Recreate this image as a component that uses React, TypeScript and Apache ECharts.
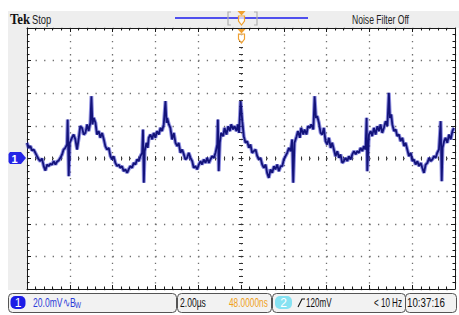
import React, { useEffect, useRef } from 'react';
import * as echarts from 'echarts';

// Time axis (µs, trigger at 0) and vertical axis (mV, 20 mV/div)
const timeMin = -10;
const timeMax = 10;
const timeDiv = 2;
const voltMin = -80;
const voltMax = 80;
const voltDiv = 20;

const timeUs = [-10.00,-9.92,-9.84,-9.77,-9.69,-9.61,-9.53,-9.45,-9.38,-9.30,-9.22,-9.14,-9.06,-8.99,-8.91,-8.83,-8.75,-8.67,-8.60,-8.52,-8.44,-8.36,-8.29,-8.21,-8.13,-8.10,-8.05,-8.00,-7.90,-7.82,-7.74,-7.66,-7.58,-7.51,-7.43,-7.35,-7.27,-7.19,-7.12,-7.04,-6.99,-6.94,-6.88,-6.80,-6.73,-6.65,-6.57,-6.49,-6.41,-6.34,-6.26,-6.18,-6.10,-6.02,-5.95,-5.87,-5.79,-5.71,-5.64,-5.56,-5.48,-5.40,-5.32,-5.25,-5.17,-5.09,-5.01,-4.93,-4.86,-4.78,-4.70,-4.62,-4.58,-4.54,-4.50,-4.42,-4.36,-4.31,-4.23,-4.15,-4.08,-4.00,-3.92,-3.84,-3.76,-3.69,-3.61,-3.53,-3.48,-3.45,-3.37,-3.30,-3.22,-3.14,-3.06,-2.98,-2.91,-2.83,-2.75,-2.67,-2.60,-2.52,-2.44,-2.36,-2.28,-2.21,-2.13,-2.05,-1.97,-1.89,-1.82,-1.74,-1.66,-1.58,-1.50,-1.43,-1.35,-1.27,-1.19,-1.11,-1.08,-1.04,-0.99,-0.93,-0.83,-0.77,-0.68,-0.60,-0.52,-0.46,-0.37,-0.30,-0.21,-0.15,-0.09,-0.02,0.06,0.13,0.21,0.29,0.37,0.44,0.52,0.60,0.68,0.76,0.83,0.91,0.99,1.07,1.15,1.22,1.30,1.38,1.46,1.54,1.61,1.69,1.77,1.85,1.93,2.00,2.08,2.16,2.24,2.32,2.39,2.44,2.50,2.60,2.66,2.75,2.81,2.91,2.97,3.06,3.13,3.22,3.28,3.38,3.44,3.50,3.56,3.64,3.72,3.80,3.87,3.95,4.03,4.11,4.19,4.26,4.34,4.42,4.50,4.58,4.65,4.73,4.81,4.89,4.97,5.04,5.12,5.20,5.28,5.36,5.43,5.51,5.59,5.67,5.74,5.82,5.87,5.90,5.98,6.06,6.13,6.21,6.29,6.37,6.45,6.52,6.60,6.68,6.76,6.84,6.91,6.96,7.02,7.07,7.15,7.23,7.30,7.38,7.46,7.54,7.62,7.69,7.77,7.85,7.93,8.01,8.08,8.16,8.24,8.32,8.40,8.47,8.55,8.63,8.71,8.79,8.86,8.94,9.02,9.10,9.17,9.25,9.33,9.38,9.42,9.49,9.56,9.64,9.72,9.80,9.88,9.95];

const voltMv = [9.6,6.5,7.6,4.9,5.5,3.5,1.4,-0.6,-1.6,0.0,-4.7,-7.4,-3.7,-4.7,-3.3,-3.7,-1.6,-3.7,-2.0,-1.2,0.4,2.5,5.5,6.5,8.6,23.9,-10.8,9.6,12.7,14.7,11.7,5.5,12.7,19.8,18.8,14.7,15.7,20.9,16.8,21.9,38.2,20.9,24.9,21.9,14.7,16.8,12.7,15.7,11.7,7.6,5.5,6.5,1.4,-0.6,1.4,-2.7,-4.7,-3.7,-5.7,-4.7,-7.8,-6.7,-8.8,-6.7,-4.7,-5.7,-2.7,-3.7,-0.6,-1.6,1.4,3.5,17.8,-14.9,4.5,9.6,6.5,12.7,14.7,11.7,15.7,12.7,16.8,14.7,18.8,16.8,20.9,35.2,21.9,24.9,20.9,18.8,11.7,15.7,9.6,7.6,9.6,3.5,5.5,2.5,-0.6,0.4,3.5,0.4,-1.6,-5.7,-4.7,-6.7,-3.7,-1.6,-3.7,-0.6,-2.7,0.4,-2.7,-0.6,1.4,0.4,3.5,8.6,23.9,-7.8,9.6,15.7,13.7,18.8,14.7,19.8,16.8,20.9,17.8,19.8,16.8,20.9,15.7,35.2,22.9,13.7,9.6,10.6,6.5,8.6,3.5,4.5,5.5,1.4,-0.6,0.4,-3.7,-5.7,-3.7,-8.8,-11.9,-6.7,-8.8,-4.7,-6.7,-3.7,-7.8,-4.7,-4.7,-0.6,1.4,3.5,6.5,4.5,11.7,-14.9,9.6,13.7,16.8,12.7,18.8,14.7,17.8,14.7,19.8,18.8,20.9,17.8,38.2,24.9,26.0,21.9,15.7,14.7,18.8,10.6,8.6,12.7,6.5,9.6,5.5,1.4,4.5,0.4,2.5,-2.7,-1.6,0.4,-1.6,1.4,-0.6,2.5,4.5,2.5,4.5,3.5,6.5,4.5,7.6,5.5,24.9,-7.8,14.7,16.8,13.7,18.8,14.7,19.8,16.8,20.9,15.7,18.8,22.9,19.8,40.3,24.9,27.0,20.9,16.8,17.8,13.7,14.7,10.6,12.7,7.6,9.6,5.5,1.4,3.5,-1.6,-0.6,-3.7,-1.6,-4.7,-2.7,-5.7,-8.8,-3.7,-2.7,0.4,-1.6,-0.6,1.4,0.4,3.5,5.5,22.9,-13.9,6.5,10.6,12.7,9.6,14.7,11.7,16.8,18.8];

const topTexts = { brand: 'Tek', state: 'Stop', filter: 'Noise Filter Off' };
const statusTexts = {
  ch1Num: '1',
  ch1Scale: '20.0mV',
  ch1Coupling: '∿B',
  ch1Bw: 'W',
  timebase: '2.00µs',
  position: '48.0000ns',
  trigSrc: '2',
  trigLevel: '120mV',
  trigFreq: '< 10 Hz',
  clock: '10:37:16',
};

const NARROW = '"Liberation Sans", Arial, sans-serif';

export default function App() {
  const ref = useRef<HTMLDivElement>(null);

  useEffect(() => {
    if (!ref.current) return;
    const chart = echarts.init(ref.current, null, { renderer: 'svg' });
    const n = Math.min(timeUs.length, voltMv.length);
    const data: number[][] = [];
    for (let i = 0; i < n; i++) data.push([timeUs[i], voltMv[i]]);

    const black = '#1a1a1a';
    const dot = '#6e6e6e';

    const baseX = {
      type: 'value',
      min: timeMin,
      max: timeMax,
      interval: timeDiv,
      axisLabel: { show: false },
      splitLine: { show: false },
    };
    const baseY = {
      type: 'value',
      min: voltMin,
      max: voltMax,
      interval: voltDiv,
      axisLabel: { show: false },
      splitLine: { show: false },
    };
    const frameLine = { show: true, onZero: false, lineStyle: { color: black, width: 1 } };
    const frameTick = { show: true, inside: true, length: 4, lineStyle: { color: black, width: 1 } };
    const frameMinor = { show: true, splitNumber: 5, length: 2.5, lineStyle: { color: black, width: 1 } };
    const hiddenZeroLine = (idx: number) => ({ show: true, onZero: true, onZeroAxisIndex: idx, lineStyle: { opacity: 0 } });
    const centerTick = (inside: boolean) => ({ show: true, inside, length: 2.5, lineStyle: { color: '#333', width: 1 } });
    const centerMinor = { show: true, splitNumber: 5, length: 2, lineStyle: { color: '#333', width: 1 } };

    const orange = '#f0a030';

    chart.setOption({
      animation: false,
      backgroundColor: '#ffffff',
      grid: { left: 27, top: 28, right: 4, bottom: 26, show: true, backgroundColor: '#ffffff', borderWidth: 0 },
      xAxis: [
        { ...baseX, position: 'bottom', axisLine: frameLine, axisTick: frameTick, minorTick: frameMinor,
          splitLine: { show: true, lineStyle: { color: dot, width: 1.3, type: [1.3, 5.22] } } },
        { ...baseX, position: 'top', axisLine: frameLine, axisTick: frameTick, minorTick: frameMinor },
        { ...baseX, position: 'bottom', axisLine: hiddenZeroLine(0), axisTick: centerTick(true), minorTick: centerMinor },
        { ...baseX, position: 'bottom', axisLine: hiddenZeroLine(0), axisTick: centerTick(false), minorTick: centerMinor },
      ],
      yAxis: [
        { ...baseY, position: 'left', axisLine: frameLine, axisTick: frameTick, minorTick: frameMinor,
          splitLine: { show: true, lineStyle: { color: dot, width: 1.3, type: [1.3, 7.26] } } },
        { ...baseY, position: 'right', axisLine: frameLine, axisTick: frameTick, minorTick: frameMinor },
        { ...baseY, position: 'left', axisLine: hiddenZeroLine(0), axisTick: centerTick(true), minorTick: centerMinor },
        { ...baseY, position: 'left', axisLine: hiddenZeroLine(0), axisTick: centerTick(false), minorTick: centerMinor },
      ],
      series: [
        {
          type: 'line', xAxisIndex: 0, yAxisIndex: 0, data, showSymbol: false, symbol: 'none',
          lineStyle: { color: 'rgba(70,70,205,0.6)', width: 3.8 }, z: 3, silent: true,
        },
        {
          type: 'line', xAxisIndex: 0, yAxisIndex: 0, data, showSymbol: false, symbol: 'none',
          lineStyle: { color: '#13137a', width: 1.8 }, z: 4, silent: true,
        },
      ],
      graphic: [
        // top status bar and left strip
        { type: 'rect', shape: { x: 8, y: 11, width: 451, height: 17 }, style: { fill: '#eeeeee' }, z: -10 },
        { type: 'rect', shape: { x: 8, y: 28, width: 19, height: 262 }, style: { fill: '#eeeeee' }, z: -10 },
        { type: 'text', x: 10, y: 19, style: { text: topTexts.brand, font: 'bold 15px "Liberation Serif", "DejaVu Serif", serif', fill: '#111', verticalAlign: 'middle' }, scaleX: 0.85 },
        { type: 'text', x: 32, y: 19, style: { text: topTexts.state, font: `13px ${NARROW}`, fill: '#222', verticalAlign: 'middle' }, scaleX: 0.72 },
        { type: 'line', shape: { x1: 175, y1: 18, x2: 308, y2: 18 }, style: { stroke: '#5050ee', lineWidth: 2 } },
        { type: 'polyline', shape: { points: [[231, 12], [228, 12], [228, 25], [231, 25]] }, style: { stroke: '#b0b0b0', lineWidth: 1.2, fill: null } },
        { type: 'polyline', shape: { points: [[254, 12], [257, 12], [257, 25], [254, 25]] }, style: { stroke: '#b0b0b0', lineWidth: 1.2, fill: null } },
        { type: 'polygon', shape: { points: [[237.5, 11], [245.5, 11], [241.5, 15.5]] }, style: { fill: orange }, z: 20 },
        { type: 'polygon', shape: { points: [[238.5, 16], [244.5, 16], [244.5, 21], [241.5, 25], [238.5, 21]] }, style: { fill: 'rgba(255,255,255,0.7)', stroke: orange, lineWidth: 1.2 }, z: 20 },
        { type: 'polygon', shape: { points: [[237.5, 29], [245.5, 29], [241.5, 33.5]] }, style: { fill: orange }, z: 20 },
        { type: 'polygon', shape: { points: [[238.5, 34], [244.5, 34], [244.5, 39], [241.5, 43], [238.5, 39]] }, style: { fill: 'rgba(255,255,255,0.7)', stroke: orange, lineWidth: 1.2 }, z: 20 },
        { type: 'text', x: 352, y: 19, style: { text: topTexts.filter, font: `13px ${NARROW}`, fill: '#222', verticalAlign: 'middle' }, scaleX: 0.66 },

        // channel 1 ground marker
        { type: 'polygon', shape: { points: [[10, 152], [21, 152], [26, 158], [21, 164], [10, 164], [8.5, 162], [8.5, 154]] }, style: { fill: '#2424e6' }, z: 20 },
        { type: 'text', x: 14.5, y: 158.5, style: { text: statusTexts.ch1Num, font: `bold 11px ${NARROW}`, fill: '#ffffff', align: 'center', verticalAlign: 'middle' }, z: 21 },

        // bottom status boxes
        { type: 'rect', shape: { x: 8.5, y: 293.5, width: 168, height: 19, r: 4 }, style: { fill: '#f2f2f2', stroke: '#555', lineWidth: 1 } },
        { type: 'rect', shape: { x: 177.5, y: 293.5, width: 94, height: 19, r: 4 }, style: { fill: '#f2f2f2', stroke: '#555', lineWidth: 1 } },
        { type: 'rect', shape: { x: 272.5, y: 293.5, width: 133, height: 19, r: 4 }, style: { fill: '#f2f2f2', stroke: '#555', lineWidth: 1 } },
        { type: 'rect', shape: { x: 405.5, y: 293.5, width: 51, height: 19, r: 4 }, style: { fill: '#f2f2f2', stroke: '#555', lineWidth: 1 } },
        { type: 'rect', shape: { x: 10.5, y: 296, width: 15, height: 13, r: 5 }, style: { fill: '#1c1ce6' } },
        { type: 'text', x: 18, y: 302.5, style: { text: statusTexts.ch1Num, font: `12px ${NARROW}`, fill: '#ffffff', align: 'center', verticalAlign: 'middle' } },
        { type: 'text', x: 33, y: 302.5, style: { text: statusTexts.ch1Scale, font: `13px ${NARROW}`, fill: '#2c3cd8', verticalAlign: 'middle' }, scaleX: 0.66 },
        { type: 'text', x: 63, y: 302.5, style: { text: statusTexts.ch1Coupling, font: `13px ${NARROW}`, fill: '#2c3cd8', verticalAlign: 'middle' }, scaleX: 0.66 },
        { type: 'text', x: 75, y: 305, style: { text: statusTexts.ch1Bw, font: `9px ${NARROW}`, fill: '#2c3cd8', verticalAlign: 'middle' }, scaleX: 0.7 },
        { type: 'text', x: 180, y: 302.5, style: { text: statusTexts.timebase, font: `13px ${NARROW}`, fill: '#111', verticalAlign: 'middle' }, scaleX: 0.66 },
        { type: 'text', x: 229, y: 302.5, style: { text: statusTexts.position, font: `13px ${NARROW}`, fill: '#f0a020', verticalAlign: 'middle' }, scaleX: 0.64 },
        { type: 'rect', shape: { x: 275, y: 296, width: 17, height: 13, r: 5 }, style: { fill: '#86e2f2' } },
        { type: 'text', x: 283.5, y: 302.5, style: { text: statusTexts.trigSrc, font: `12px ${NARROW}`, fill: '#ffffff', align: 'center', verticalAlign: 'middle' } },
        { type: 'polyline', shape: { points: [[298, 307], [302, 299], [305, 299]] }, style: { stroke: '#111', lineWidth: 1.1, fill: null } },
        { type: 'text', x: 306, y: 302.5, style: { text: statusTexts.trigLevel, font: `13px ${NARROW}`, fill: '#111', verticalAlign: 'middle' }, scaleX: 0.62 },
        { type: 'text', x: 374, y: 302.5, style: { text: statusTexts.trigFreq, font: `13px ${NARROW}`, fill: '#111', verticalAlign: 'middle' }, scaleX: 0.62 },
        { type: 'text', x: 407, y: 302.5, style: { text: statusTexts.clock, font: `13px ${NARROW}`, fill: '#111', verticalAlign: 'middle' }, scaleX: 0.75 },
      ],
    });
    return () => chart.dispose();
  }, []);

  return (
    <div
      ref={ref}
      style={{ position: 'absolute', left: 0, top: 0, width: 459, height: 315, background: '#fff' }}
    />
  );
}
